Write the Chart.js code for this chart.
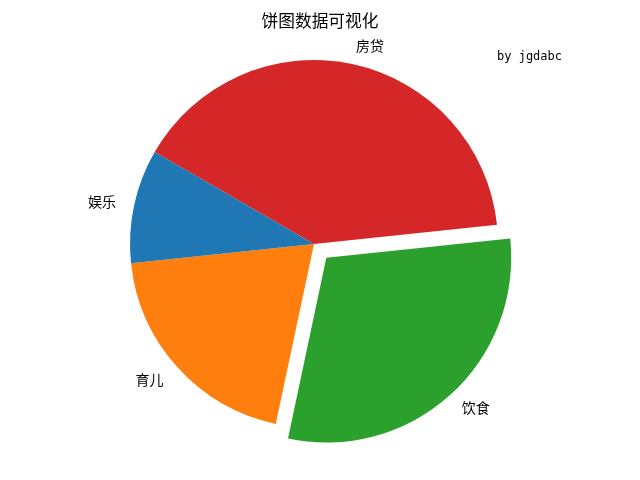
<!DOCTYPE html>
<html>
<head>
<meta charset="utf-8">
<script src="https://cdn.jsdelivr.net/npm/chart.js@4"></script>
<style>
  html, body { margin: 0; padding: 0; background: #fff; }
</style>
</head>
<body>
<canvas id="chart" width="640" height="480"></canvas>
<script>
// data in drawing order (clockwise from the start angle)
const labels = ["房贷", "饮食", "育儿", "娱乐"];
const values = [40, 30, 20, 10];
const explode = [0, 0.1, 0, 0];
const colors = ["#d62728", "#2ca02c", "#ff7f0e", "#1f77b4"];
const titleText = "饼图数据可视化";
const noteText = "by jgdabc";

const RADIUS = 184;
const CJK = "'Noto Sans CJK SC', sans-serif";

const pieText = {
  id: "pieText",
  afterDraw(chart) {
    const ctx = chart.ctx;
    const arcs = chart.getDatasetMeta(0).data;
    ctx.save();
    ctx.fillStyle = "#000";
    ctx.textBaseline = "middle";

    arcs.forEach((arc, i) => {
      const mid = (arc.startAngle + arc.endAngle) / 2;
      const shift = (arc.options.offset || 0) / 4;
      const r = arc.outerRadius * 1.1 + shift;
      const x = arc.x + Math.cos(mid) * r;
      const y = arc.y + Math.sin(mid) * r;
      ctx.font = "14px " + CJK;
      ctx.textAlign = Math.cos(mid) < 0 ? "right" : "left";
      ctx.fillText(labels[i], x, y);
    });

    ctx.textAlign = "center";
    ctx.font = "16.7px " + CJK;
    ctx.fillText(titleText, 320, 21);

    ctx.textAlign = "left";
    ctx.font = "12px 'DejaVu Sans Mono', monospace";
    ctx.fillText(noteText, 497, 57);
    ctx.restore();
  }
};

function renderPie() {
  const canvas = document.getElementById("chart");
  if (!canvas || typeof Chart === "undefined") {
    return;
  }

  new Chart(canvas, {
    type: "pie",
    data: {
      labels: labels,
      datasets: [{
        data: values,
        backgroundColor: colors,
        borderWidth: 0,
        // Chart.js shifts an arc by offset / 4
        offset: explode.map(e => e * RADIUS * 4),
        hoverOffset: 0
      }]
    },
    options: {
      responsive: false,
      animation: false,
      devicePixelRatio: 1,
      rotation: -60,
      radius: RADIUS,
      layout: {
        padding: { left: 0, right: 12, top: 8, bottom: 0 }
      },
      plugins: {
        legend: { display: false },
        title: { display: false },
        tooltip: { enabled: false }
      }
    },
    plugins: [pieText]
  });
}

document.addEventListener("DOMContentLoaded", renderPie);
</script>
</body>
</html>
